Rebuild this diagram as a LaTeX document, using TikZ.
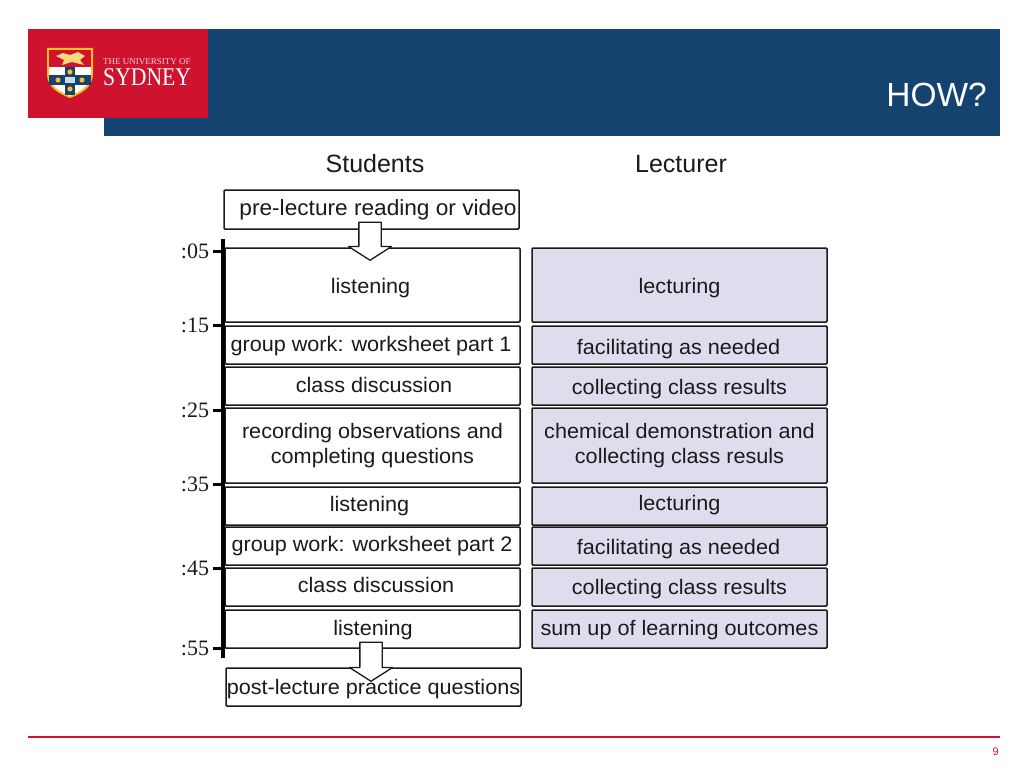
\documentclass[tikz,border=0pt]{standalone}
\usepackage{xcolor}
\usepackage{fontspec}
\setmainfont{Liberation Sans}
\newfontfamily\timesfont{Liberation Serif}
\newfontfamily\widefont[FakeStretch=1.03]{Liberation Sans}
\newfontfamily\narrowfont[FakeStretch=0.85]{Liberation Serif}
\usetikzlibrary{shapes.arrows, positioning}
\definecolor{sydnavy}{RGB}{20, 67, 112}
\definecolor{sydred}{RGB}{207, 18, 46}
\definecolor{sydgold}{RGB}{246, 190, 40}
\definecolor{lilac}{RGB}{221, 221, 238}
\definecolor{inkline}{RGB}{26, 26, 26}
\newcommand{\placed}[3]{\raisebox{-#2pt}[0pt][0pt]{\makebox[0pt][l]{\kern #1pt\makebox[0pt]{#3}}}}

\begin{document}
\begin{tikzpicture}[x=1pt, y=-1pt]
    \tikzstyle{slot} = [rectangle, rounded corners=1pt, minimum width=295pt, draw=inkline, line width=1.5pt, fill=white, align=center, inner sep=0pt, outer sep=0pt, text=inkline, font=\widefont\fontsize{21}{24.5}\selectfont]
    \tikzstyle{duty} = [slot, fill=lilac]
    \tikzstyle{heading} = [text=inkline, font=\fontsize{25}{30}\selectfont]
    \tikzstyle{flow} = [single arrow, shape border rotate=270, draw=inkline, line width=1.3pt, line join=bevel, fill=white, inner sep=10.5pt, single arrow tip angle=115, single arrow head extend=10.5pt, single arrow head indent=0pt, minimum width=43pt, minimum height=38pt, anchor=tip]
    \tikzstyle{stamp} = [anchor=east, inner sep=0pt, outer sep=0pt, text=inkline, font=\timesfont\fontsize{22}{26}\selectfont]
    \tikzstyle{tick} = [line width=3pt, draw=black]

    \useasboundingbox (0,0) rectangle (1024,768);

    % header band and logo
    \fill [sydnavy] (104,29) rectangle (1000,136);
    \fill [sydred] (28,29) rectangle (208,118);
    \draw [line width=2pt, draw=sydgold, fill=white] (48,49) -- (92,49) -- (92,74) .. controls (92,87) and (80,93) .. (70,97) .. controls (60,93) and (48,87) .. (48,74) -- cycle;
    \fill [sydred] (49,50) rectangle (91,67);
    \fill [sydgold!60!white] (56,56) -- (63,53) -- (70,55) -- (78,52) -- (85,56) -- (80,60) -- (84,65) -- (72,62) -- (62,65) -- (64,60) -- cycle;
    \fill [sydnavy] (65,67) rectangle (75,95);
    \fill [sydnavy] (49,75) rectangle (91,85);
    \fill [sydgold] (58,80) circle (2.6);
    \fill [sydgold] (82,80) circle (2.6);
    \fill [sydgold] (70,72) circle (2.6);
    \fill [sydgold] (70,89) circle (2.6);
    \fill [white!80!sydnavy] (65,77) rectangle (75,83);
    \node (logotop) [anchor=west, inner sep=0pt, text=white!80!sydred, font=\timesfont\fontsize{9}{10}\selectfont] at (103,62) {THE UNIVERSITY OF};
    \node (logoname) [anchor=west, inner sep=0pt, text=white, font=\narrowfont\fontsize{25.5}{30}\selectfont] at (103,77) {SYDNEY};
    \node (title) [anchor=east, inner sep=0pt, text=white, font=\fontsize{33.5}{40}\selectfont] at (987,95) {HOW?};

    \node (students) [heading] at (375,164) {Students};
    \node (lecturer) [heading] at (681,164) {Lecturer};

    % student column
    \node (pre) [slot, minimum height=39pt, font=\widefont\fontsize{22}{26}\selectfont] at (371.5,209.5) {\placed{6.5}{5.5}{pre-lecture reading or video}};
    \node (listen1) [slot, minimum height=74pt] at (372.5,285) {\placed{-2}{8}{listening}};
    \node (group1) [slot, minimum height=38pt, below=4pt of listen1] {\placed{-1.5}{6}{group work: worksheet part 1}};
    \node (class1) [slot, minimum height=38pt, below=3pt of group1] {\placed{1.5}{6}{class discussion}};
    \node (record) [slot, minimum height=75pt, below=3pt of class1] {recording observations and\\completing questions};
    \node (listen2) [slot, minimum height=38pt, below=4pt of record] {\placed{-3}{5}{listening}};
    \node (group2) [slot, minimum height=38pt, below=2pt of listen2] {\placed{-0.5}{5}{group work: worksheet part 2}};
    \node (class2) [slot, minimum height=38pt, below=3pt of group2] {\placed{3.5}{5}{class discussion}};
    \node (listen3) [slot, minimum height=38pt, below=4pt of class2] {\placed{0.5}{6}{listening}};
    \node (post) [slot, minimum height=38pt, below=20pt of listen3, xshift=1pt] {\placed{0}{7}{post-lecture practice questions}};

    % lecturer column
    \node (lecture1) [duty, minimum height=74pt, right=12pt of listen1] {\placed{0}{8}{lecturing}};
    \node (help1) [duty, minimum height=38pt, right=12pt of group1] {\placed{-1}{9}{facilitating as needed}};
    \node (collect1) [duty, minimum height=38pt, right=12pt of class1] {\placed{0}{8}{collecting class results}};
    \node (demo) [duty, minimum height=75pt, right=12pt of record] {chemical demonstration and\\collecting class resuls};
    \node (lecture2) [duty, minimum height=38pt, right=12pt of listen2] {\placed{0}{4}{lecturing}};
    \node (help2) [duty, minimum height=38pt, right=12pt of group2] {\placed{-1}{8}{facilitating as needed}};
    \node (collect2) [duty, minimum height=38pt, right=12pt of class2] {\placed{0}{7}{collecting class results}};
    \node (sumup) [duty, minimum height=38pt, right=12pt of listen3] {\placed{0}{6}{sum up of learning outcomes}};

    \node (into) [flow] at (370,261) {};
    \node (outof) [flow, minimum height=39pt] at (371,682) {};

    % time axis
    \coordinate (axistop) at (223,239);
    \coordinate (axisend) at (223,658);
    \draw [line width=4pt, draw=black] (axistop) -- (axisend);
    \foreach \name/\label/\ypos in {t05/:05/251, t15/:15/325, t25/:25/410, t35/:35/484, t45/:45/568, t55/:55/648} {
        \node (\name) [stamp] at (209,\ypos) {\label};
        \draw [tick] (\name.east) ++(4,0) -- (\name.east -| axistop);
    }

    % footer
    \coordinate (footstart) at (28,737);
    \coordinate (footend) at (1000,737);
    \draw [line width=2.6pt, draw=sydred] (footstart) -- (footend);
    \node (page) [anchor=east, inner sep=0pt, text=sydred, font=\fontsize{11}{13}\selectfont] at (999,752) {9};
\end{tikzpicture}
\end{document}
